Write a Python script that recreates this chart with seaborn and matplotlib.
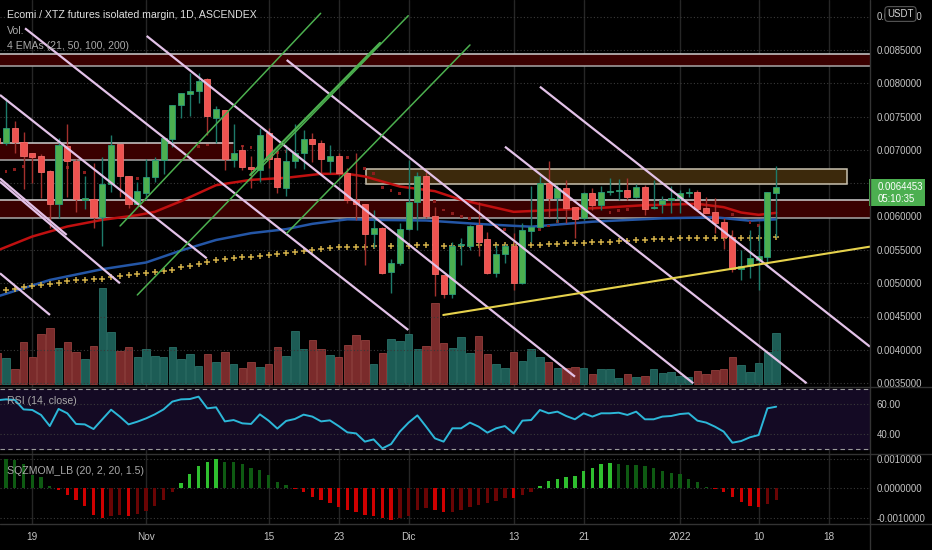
import numpy as np
import pandas as pd
import matplotlib
matplotlib.use("Agg")
import matplotlib.pyplot as plt
from matplotlib.patches import Rectangle
from matplotlib.transforms import blended_transform_factory
import seaborn as sns

W, H, DPI = 932, 550, 100
BASE = pd.Timestamp("2021-10-19")

dates = pd.date_range("2021-10-15", "2022-01-12", freq="D")

# prices in units of 1e-4 USDT, one per day from Oct 15
opens = [71.80, 70.98, 73.32, 71.22, 69.48, 69.12, 66.78, 61.92, 70.58, 68.37,
         62.55, 62.58, 59.97, 64.83, 70.92, 66.03, 61.92, 63.48, 65.88, 68.48,
         71.63, 76.77, 78.33, 78.87, 80.58, 74.73, 75.98, 68.52, 69.93, 67.47,
         66.98, 72.48, 68.82, 64.23, 68.33, 69.48, 71.67, 70.98, 68.37, 69.08,
         66.48, 62.48, 61.88, 57.38, 58.32, 51.68, 52.98, 58.13, 62.22, 66.12,
         60.12, 51.23, 48.38, 55.68, 55.58, 58.73, 56.58, 51.57, 54.37, 55.62,
         49.98, 57.87, 58.47, 64.98, 62.82, 64.23, 61.47, 59.73, 63.57, 61.73,
         63.63, 63.83, 63.98, 62.97, 64.38, 61.28, 61.83, 62.48, 62.73, 63.48,
         63.72, 61.23, 60.63, 59.18, 56.97, 52.08, 52.58, 53.48, 53.97, 63.57]
highs = [72.20, 77.78, 74.33, 72.72, 69.53, 69.38, 66.98, 71.82, 73.88, 68.67,
         66.08, 68.03, 68.93, 72.23, 70.95, 66.08, 65.22, 68.58, 68.97, 71.82,
         76.80, 78.57, 81.57, 81.48, 80.73, 76.58, 75.98, 73.88, 70.73, 69.08,
         73.23, 73.23, 69.98, 70.73, 73.83, 72.98, 72.48, 71.48, 70.73, 69.57,
         67.23, 69.48, 61.88, 60.98, 58.43, 53.58, 59.03, 68.48, 66.72, 66.72,
         61.47, 51.23, 56.22, 56.73, 58.73, 62.22, 57.72, 55.72, 55.87, 57.48,
         58.98, 64.58, 66.08, 68.33, 64.73, 65.48, 61.47, 63.72, 64.23, 64.58,
         65.73, 65.58, 65.73, 64.83, 64.73, 65.48, 63.08, 64.58, 63.98, 64.23,
         63.98, 62.97, 62.82, 59.73, 57.98, 54.98, 57.98, 58.73, 63.75, 67.58]
lows = [70.60, 70.73, 69.53, 64.08, 65.03, 62.78, 58.28, 59.78, 62.97, 60.72,
        61.13, 58.28, 55.58, 63.72, 62.97, 61.28, 61.88, 62.48, 65.22, 66.33,
        70.43, 74.73, 75.12, 76.98, 72.23, 71.07, 66.98, 67.47, 66.98, 64.28,
        65.22, 67.23, 63.48, 63.08, 67.23, 67.08, 68.22, 66.48, 66.48, 66.23,
        61.98, 59.48, 52.73, 55.23, 51.37, 48.48, 52.73, 57.98, 57.98, 59.78,
        48.12, 47.78, 47.82, 52.73, 54.98, 54.08, 51.37, 50.97, 52.98, 48.98,
        49.95, 56.22, 58.23, 59.97, 59.22, 59.07, 56.73, 59.48, 60.98, 60.98,
        63.23, 62.48, 62.48, 62.73, 60.23, 61.08, 60.48, 60.48, 60.48, 62.97,
        61.08, 60.48, 57.57, 55.08, 51.72, 50.48, 50.73, 48.98, 52.48, 56.97]
closes = [71.10, 73.32, 71.18, 69.12, 68.93, 66.72, 61.92, 70.77, 68.28, 62.63,
          62.63, 59.97, 64.83, 70.77, 66.03, 61.92, 63.78, 65.93, 68.48, 71.73,
          76.77, 78.48, 78.87, 80.33, 75.08, 76.08, 68.63, 69.53, 67.47, 67.08,
          72.23, 68.63, 64.47, 68.33, 69.53, 71.67, 70.92, 68.63, 69.08, 66.48,
          62.48, 61.88, 57.38, 58.23, 51.48, 53.07, 58.13, 62.22, 66.12, 60.12,
          51.37, 48.38, 55.62, 55.77, 58.58, 56.22, 51.57, 54.37, 55.62, 49.98,
          57.98, 58.38, 64.98, 62.82, 64.23, 61.32, 59.63, 63.57, 61.73, 63.72,
          63.78, 63.98, 62.97, 64.38, 61.13, 61.38, 62.48, 62.73, 63.48, 63.72,
          61.08, 60.48, 59.07, 56.88, 52.08, 52.58, 53.73, 54.08, 63.72, 64.45]
volume = [94, 77, 44, 126, 82, 151, 167, 108, 126, 96,
          75, 115, 287, 157, 98, 110, 80, 106, 84, 82,
          110, 75, 89, 53, 91, 67, 95, 60, 47, 67,
          51, 60, 110, 84, 159, 106, 131, 104, 87, 80,
          118, 146, 131, 60, 93, 134, 129, 149, 104, 114,
          242, 122, 109, 140, 94, 144, 89, 60, 47, 96,
          69, 104, 80, 66, 49, 49, 50, 47, 29, 46,
          46, 17, 31, 22, 24, 46, 33, 35, 25, 21,
          38, 31, 41, 44, 80, 57, 37, 63, 97, 152]
rsi = [62.5, 63.1, 62.7, 56.4, 56.0, 52.7, 45.3, 56.7, 53.8, 46.7,
       46.4, 43.3, 49.8, 56.2, 51.6, 46.4, 48.2, 50.4, 53.1, 56.4,
       61.6, 63.1, 63.3, 64.9, 57.1, 57.8, 48.4, 49.3, 47.1, 46.7,
       53.1, 48.9, 43.6, 48.7, 50.0, 52.9, 51.6, 48.4, 49.1, 45.3,
       41.1, 40.4, 34.9, 36.4, 30.4, 33.3, 41.6, 47.6, 52.4, 44.9,
       37.1, 34.9, 43.8, 43.8, 47.6, 44.9, 40.9, 43.8, 45.3, 40.4,
       48.9, 49.3, 56.0, 53.8, 54.9, 52.0, 49.8, 53.8, 51.6, 53.8,
       53.8, 54.2, 52.7, 54.9, 49.8, 49.8, 51.6, 52.0, 53.3, 53.8,
       48.9, 47.6, 44.9, 41.6, 34.2, 35.3, 37.8, 39.3, 57.1, 58.2]
# squeeze momentum, units of 1e-3
sqz = [1.00, 0.98, 0.96, 0.83, 0.44, 0.39, 0.09, -0.06, -0.22, -0.41,
       -0.61, -0.89, -1.00, -0.92, -0.89, -0.92, -0.87, -0.78, -0.61, -0.41,
       -0.11, 0.19, 0.47, 0.74, 0.89, 0.98, 0.89, 0.88, 0.81, 0.67,
       0.63, 0.44, 0.20, 0.10, -0.02, -0.14, -0.28, -0.41, -0.50, -0.64,
       -0.74, -0.80, -0.89, -0.92, -1.00, -1.06, -1.00, -0.92, -0.74, -0.67,
       -0.72, -0.80, -0.80, -0.72, -0.64, -0.56, -0.51, -0.44, -0.31, -0.34,
       -0.22, -0.11, 0.08, 0.24, 0.33, 0.37, 0.41, 0.58, 0.70, 0.83,
       0.84, 0.81, 0.78, 0.78, 0.74, 0.67, 0.59, 0.50, 0.47, 0.33,
       0.22, 0.06, -0.03, -0.14, -0.30, -0.47, -0.58, -0.64, -0.53, -0.39]
ema200 = [48.80, 48.98, 49.18, 49.38, 49.58, 49.73, 49.83, 50.08, 50.33, 50.43,
          50.53, 50.63, 50.68, 50.98, 51.08, 51.28, 51.38, 51.48, 51.63, 51.88,
          52.03, 52.38, 52.58, 52.88, 53.23, 53.48, 53.58, 53.73, 53.88, 53.98,
          54.13, 54.23, 54.38, 54.53, 54.63, 54.88, 54.98, 55.13, 55.28, 55.38,
          55.48, 55.48, 55.48, 55.58, 55.60, 55.60, 55.63, 55.63, 55.68, 55.68,
          55.68, 55.63, 55.63, 55.63, 55.68, 55.68, 55.68, 55.68, 55.68, 55.73,
          55.73, 55.68, 55.78, 55.83, 55.88, 55.98, 55.98, 56.08, 56.13, 56.18,
          56.23, 56.33, 56.38, 56.48, 56.48, 56.58, 56.63, 56.68, 56.73, 56.73,
          56.78, 56.83, 56.83, 56.83, 56.83, 56.78, 56.78, 56.83, 56.85, 56.88]

# EMA lines read at a few days (days counted from Oct 19)
ema50_days = [-4, 0, 4, 8, 12, 14, 17, 21, 25, 29, 33, 36, 38, 42, 46, 49, 55, 60, 65, 70, 76, 79, 81, 83, 85]
ema50 = [54.9, 57.0, 58.5, 59.5, 60.2, 60.7, 62.3, 64.7, 65.5, 65.8, 66.4, 66.4, 66.0, 64.5, 63.8, 62.5,
         60.7, 61.0, 61.3, 61.7, 61.9, 61.4, 60.6, 60.25, 60.55]
ema100_days = [-4, 2, 8, 13, 17, 21, 25, 29, 32, 36, 40, 45, 51, 57, 64, 72, 78, 82, 85]
ema100 = [48.0, 50.48, 52.1, 53.1, 54.9, 56.48, 57.5, 58.1, 58.9, 59.58, 59.48, 59.4, 58.88, 58.47,
          59.22, 59.73, 59.88, 59.37, 59.58]
ema21_days = [-3, -2, -1, 4, 6, 12, 19, 20, 24, 25, 28, 29, 36, 38, 39, 40, 41, 42, 46, 47, 48, 49,
              50, 53, 54, 58, 59, 60, 66, 67, 68, 80, 82, 83]
ema21 = [66.72, 67.08, 67.47, 67.32, 66.57, 65.73, 70.47, 70.73, 70.58, 70.38, 69.57, 69.72, 68.85,
         67.23, 66.48, 64.38, 63.87, 63.48, 62.22, 60.98, 60.48, 59.97, 59.73, 58.47, 58.10, 58.10,
         58.58, 59.22, 60.63, 60.87, 61.08, 60.33, 59.07, 58.62]

# drawings: (day0, price0, day1, price1)
pink_lines = [(-0.83, 88.23, 42.96, 42.98), (13.07, 87.08, 62.01, 35.97), (29.07, 83.48, 75.53, 34.98),
              (-3.69, 78.23, 19.93, 53.73), (-3.69, 65.22, 10.02, 49.98), (-3.69, 65.70, 3.93, 57.23),
              (-3.69, 51.48, 2.02, 45.23), (54.01, 70.47, 88.48, 34.98), (58.00, 79.47, 95.72, 40.47)]
green_lines = [(10.03, 58.58, 32.95, 90.48), (12.00, 48.23, 42.96, 90.12),
               (24.90, 66.23, 39.73, 86.03), (29.07, 57.48, 50.01, 85.73)]
yellow_line = (46.96, 45.23, 95.72, 55.48)
# zones: (price low, price high, day0, day1)
red_zones = [(82.62, 84.33, -3.69, 95.72), (68.48, 70.98, -3.69, 22.93), (59.73, 62.48, -3.69, 95.72)]
brown_zone = (64.88, 67.08, 38.09, 93.05)

tick_dates = ["2021-10-19", "2021-11-01", "2021-11-15", "2021-11-23", "2021-12-01",
              "2021-12-13", "2021-12-21", "2022-01-01", "2022-01-10", "2022-01-18"]
tick_labels = ["19", "Nov", "15", "23", "Dic", "13", "21", "2022", "10", "18"]
price_levels = [0.0035, 0.0040, 0.0045, 0.0050, 0.0055, 0.0060, 0.0065, 0.0070, 0.0075, 0.0080, 0.0085, 0.0090]

BG = "#000000"
TXT = "#c4c4c4"
GRID = "#3a3a3a"
VGRID = "#262626"
UP, UP_EDGE, UP_WICK = "#4caf50", "#2a9a78", "#1d7a6a"
DN, DN_EDGE, DN_WICK = "#ef5350", "#f26a67", "#a3302d"

sns.set_theme(style="dark", rc={"axes.facecolor": BG, "figure.facecolor": BG})
plt.rcParams["font.family"] = ["Liberation Sans", "DejaVu Sans"]
plt.rcParams["axes.unicode_minus"] = False

FS = 9.6 * 0.72  # 9.6 px labels
LFS = 10.5 * 0.72


def rect(top, bottom, left=0, right=870):
    return [left / W, 1 - bottom / H, (right - left) / W, (bottom - top) / H]


x = (dates - BASE).days.values.astype(float)
o = np.array(opens) * 1e-4
h = np.array(highs) * 1e-4
l = np.array(lows) * 1e-4
c = np.array(closes) * 1e-4
v = np.array(volume, dtype=float)
up = c >= o
tick_x = [(pd.Timestamp(t) - BASE).days for t in tick_dates]
XLIM = (-3.69, 95.72)

fig = plt.figure(figsize=(W / DPI, H / DPI), dpi=DPI)

# volume sits under the price axes
ax_vol = fig.add_axes(rect(0, 387), zorder=0)
ax = fig.add_axes(rect(0, 387), zorder=1)
ax.patch.set_alpha(0)
ax_rsi = fig.add_axes(rect(387, 453))
ax_sqz = fig.add_axes(rect(453, 524))

for a in (ax_vol, ax, ax_rsi, ax_sqz):
    a.set_xlim(*XLIM)
    for s in a.spines.values():
        s.set_visible(False)
    a.set_xticks([])
    a.grid(False)

# ---- volume
ax_vol.set_ylim(-9, 1152)
ax_vol.set_yticks([])
for t in tick_x:
    ax_vol.axvline(t, color=VGRID, lw=1, zorder=0)
ax_vol.bar(x[up], v[up], width=0.86, color="#1c5c55", edgecolor="#2a7068", lw=0.6, zorder=2)
ax_vol.bar(x[~up], v[~up], width=0.86, color="#7a2b2b", edgecolor="#94403d", lw=0.6, zorder=2)

# ---- price pane
ax.set_ylim(0.0034425, 0.0092475)
for lv in price_levels:
    ax.axhline(lv, color=GRID, lw=0.8, ls=(0, (1, 2)), zorder=0.5)

for lo, hi, d0, d1 in red_zones:
    ax.add_patch(Rectangle((d0, lo * 1e-4), d1 - d0, (hi - lo) * 1e-4, fc="#3a0000", ec="none", zorder=1))
    ax.plot([d0, d1], [hi * 1e-4, hi * 1e-4], color="#cfcfcf", lw=1.1, zorder=1.2)
    ax.plot([d0, d1], [lo * 1e-4, lo * 1e-4], color="#a8a8a8", lw=1.1, zorder=1.2)
lo, hi, d0, d1 = brown_zone
ax.add_patch(Rectangle((d0, lo * 1e-4), d1 - d0, (hi - lo) * 1e-4, fc="#3c290c",
                       ec="#c9c2b0", lw=1.1, zorder=1))

sns.lineplot(x=ema100_days, y=np.array(ema100) * 1e-4, ax=ax, color="#2456a6", linewidth=1.8, zorder=2)
sns.lineplot(x=ema50_days, y=np.array(ema50) * 1e-4, ax=ax, color="#c01010", linewidth=1.8, zorder=2)
sns.scatterplot(x=x, y=np.array(ema200) * 1e-4, ax=ax, marker="+", s=16, color="#d2b048",
                linewidth=1.1, zorder=2.2)
sns.scatterplot(x=ema21_days, y=np.array(ema21) * 1e-4, ax=ax, marker="s", s=4, color="#8c1d1d",
                edgecolor="none", zorder=2.2)

# candles
body_lo = np.minimum(o, c)
body_h = np.maximum(np.abs(c - o), 1.5e-5)
ax.vlines(x[up], l[up], h[up], color=UP_WICK, lw=1, zorder=3)
ax.vlines(x[~up], l[~up], h[~up], color=DN_WICK, lw=1, zorder=3)
ax.bar(x[up], body_h[up], bottom=body_lo[up], width=0.7, color=UP, edgecolor=UP_EDGE, lw=0.6, zorder=3.5)
ax.bar(x[~up], body_h[~up], bottom=body_lo[~up], width=0.7, color=DN, edgecolor=DN_EDGE, lw=0.6, zorder=3.5)

for d0, p0, d1, p1 in pink_lines:
    ax.plot([d0, d1], [p0 * 1e-4, p1 * 1e-4], color="#e3c2e8", lw=1.6, zorder=4, solid_capstyle="butt")
for i, (d0, p0, d1, p1) in enumerate(green_lines):
    ax.plot([d0, d1], [p0 * 1e-4, p1 * 1e-4], color="#4cb04f", lw=1.6 if i == 2 else 1.1, zorder=4)
d0, p0, d1, p1 = yellow_line
ax.plot([d0, d1], [p0 * 1e-4, p1 * 1e-4], color="#e6d24c", lw=1.5, zorder=4)

ax.yaxis.tick_right()
ax.set_yticks(price_levels)
# the 0.0065 label sits behind the last-price tag
ax.set_yticklabels(["" if abs(p - 0.0065) < 1e-9 else f"{p:.7f}" for p in price_levels])
ax.tick_params(axis="y", length=0, pad=5, labelsize=FS, colors=TXT)

# last price label
ppx = (0.0092475 - 0.0034425) / 387
trans = blended_transform_factory(ax.transAxes, ax.transData)
last = c[-1]
ax.add_patch(Rectangle((0.9989, last - 19.5 * ppx), 56 / 870, 27 * ppx, transform=trans,
                       clip_on=False, fc="#4caf50", ec="none", zorder=15))
ax.text(878 / 870, last, "0.0064453", transform=trans, va="center", ha="left", color="white",
        fontsize=FS, clip_on=False, zorder=16)
ax.text(878 / 870, last - 12 * ppx, "05:10:35", transform=trans, va="center", ha="left", color="white",
        fontsize=FS, clip_on=False, zorder=16)

# ---- RSI pane
ax_rsi.set_ylim(27.33, 71.33)
for t in tick_x:
    ax_rsi.axvline(t, color=VGRID, lw=1, zorder=0)
ax_rsi.axhspan(30, 70, color="#140a24", zorder=0.2)
for lv in (70, 30):
    ax_rsi.axhline(lv, color="#9a9a9a", lw=0.8, ls=(0, (4, 3)), zorder=1)
for lv in (60, 40):
    ax_rsi.axhline(lv, color=GRID, lw=0.8, ls=(0, (1, 2)), zorder=1)
sns.lineplot(x=x, y=rsi, ax=ax_rsi, color="#2cb7d8", linewidth=1.4, zorder=3)
ax_rsi.set_ylabel("")
ax_rsi.yaxis.tick_right()
ax_rsi.set_yticks([60, 40])
ax_rsi.set_yticklabels(["60.00", "40.00"])
ax_rsi.tick_params(axis="y", length=0, pad=5, labelsize=FS, colors=TXT)

# ---- squeeze momentum pane
sq = np.array(sqz) * 1e-3
prev = np.concatenate([[sq[0] + 1e-6], sq[:-1]])
cols = np.where(sq > 0, np.where(sq > prev, "#2fbf2f", "#0e5a12"),
                np.where(sq < prev, "#cf0000", "#6a0404"))
ax_sqz.set_ylim(-0.001202, 0.001189)
for t in tick_x:
    ax_sqz.axvline(t, color=VGRID, lw=1, zorder=0)
for lv in (0.001, 0.0, -0.001):
    ax_sqz.axhline(lv, color=GRID, lw=0.8, ls=(0, (1, 2)), zorder=0.5)
ax_sqz.bar(x, sq, width=0.38, color=cols, edgecolor="none", linewidth=0, zorder=2)
ax_sqz.yaxis.tick_right()
ax_sqz.set_yticks([0.001, 0.0, -0.001])
ax_sqz.set_yticklabels(["0.0010000", "0.0000000", "-0.0010000"])
ax_sqz.tick_params(axis="y", length=0, pad=5, labelsize=FS, colors=TXT)
ax_sqz.set_xticks(tick_x)
ax_sqz.set_xticklabels(tick_labels)
ax_sqz.tick_params(axis="x", length=0, pad=6, labelsize=FS + 0.3, colors=TXT)

# ---- frame, legends
ov = fig.add_axes([0, 0, 1, 1], zorder=20)
ov.set_xlim(0, W)
ov.set_ylim(H, 0)
ov.axis("off")
for yy in (387, 453.5, 524):
    ov.axhline(yy, color="#333333", lw=1)
ov.axvline(869.5, color="#333333", lw=1)
ov.text(900.5, 14, "USDT", ha="center", va="center", fontsize=FS, color="#d6d6d6",
        bbox=dict(boxstyle="round,pad=0.25,rounding_size=0.35", fc="#050505", ec="#555555", lw=0.8))

ov.text(7, 15, "Ecomi / XTZ futures isolated margin, 1D, ASCENDEX", fontsize=LFS,
        color="#dedede", va="center", ha="left")
ov.text(7, 31, "Vol.", fontsize=LFS, color="#a9a9a9", va="center", ha="left")
ov.text(7, 46, "4 EMAs (21, 50, 100, 200)", fontsize=LFS, color="#a9a9a9", va="center", ha="left")
ov.text(7, 401, "RSI (14, close)", fontsize=LFS, color="#a9a9a9", va="center", ha="left")
ov.text(7, 471, "SQZMOM_LB (20, 2, 20, 1.5)", fontsize=LFS, color="#a9a9a9", va="center", ha="left")

fig.savefig("out.png", dpi=DPI, facecolor=BG)
